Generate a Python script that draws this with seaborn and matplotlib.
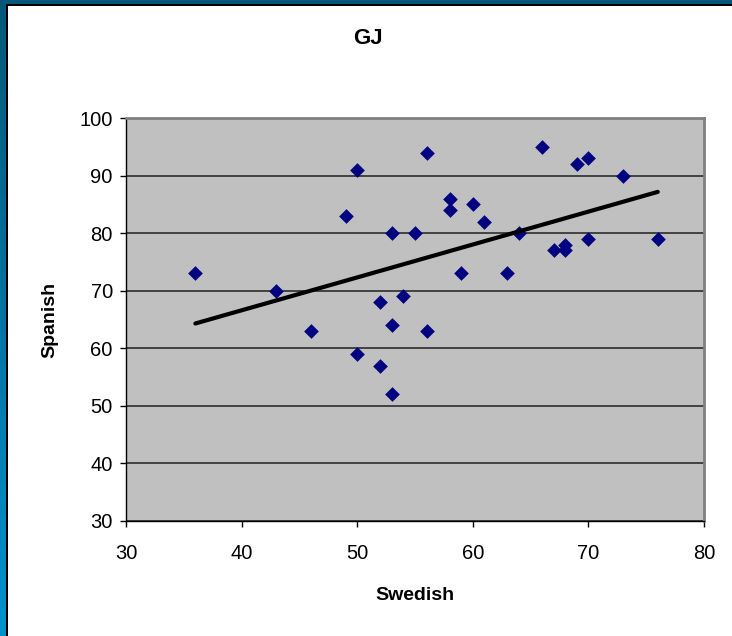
import numpy as np
import pandas as pd
import matplotlib
matplotlib.use("Agg")
import matplotlib.pyplot as plt
import seaborn as sns
from matplotlib.patches import Rectangle
from matplotlib.colors import LinearSegmentedColormap

# Data
swedish = [36, 43, 46, 49, 50, 50, 52, 52, 53, 53, 53, 54, 55, 56, 56, 58,
           58, 59, 60, 61, 63, 64, 66, 67, 68, 68, 69, 70, 70, 73, 76]
spanish = [73, 70, 63, 83, 91, 59, 68, 57, 80, 64, 52, 69, 80, 94, 63, 86,
           84, 73, 85, 82, 73, 80, 95, 77, 78, 77, 92, 93, 79, 90, 79]
x_ticks = [30, 40, 50, 60, 70, 80]
y_ticks = [30, 40, 50, 60, 70, 80, 90, 100]
title = "GJ"
x_label = "Swedish"
y_label = "Spanish"

df = pd.DataFrame({x_label: swedish, y_label: spanish})

sns.set_style("white")
plt.rcParams['font.family'] = ['Liberation Sans', 'DejaVu Sans']
plt.rcParams['text.color'] = 'black'
plt.rcParams['axes.labelcolor'] = 'black'
plt.rcParams['xtick.color'] = 'black'
plt.rcParams['ytick.color'] = 'black'

W, H = 732, 636
fig = plt.figure(figsize=(W / 100, H / 100), dpi=100)
fig.patch.set_facecolor("white")

# Slide frame: teal top band and gradient left band with black inner edge
fig.patches.append(Rectangle((0, 1 - 4 / H), 1, 4 / H, transform=fig.transFigure,
                             facecolor="#06587a", edgecolor="none", zorder=0))
fig.patches.append(Rectangle((6 / W, 1 - 6 / H), 1, 2 / H, transform=fig.transFigure,
                             facecolor="black", edgecolor="none", zorder=0))
fig.patches.append(Rectangle((6 / W, 0), 2 / W, 1 - 4 / H, transform=fig.transFigure,
                             facecolor="black", edgecolor="none", zorder=0))
gax = fig.add_axes([0, 0, 6 / W, 1 - 4 / H])
cmap = LinearSegmentedColormap.from_list("band", ["#0092cc", "#06587a"])
gax.imshow(np.linspace(0, 1, 256).reshape(-1, 1), aspect="auto", cmap=cmap,
           origin="lower", extent=[0, 1, 0, 1])
gax.set_axis_off()

ax = fig.add_axes([126 / W, 1 - 521 / H, (704 - 126) / W, (521 - 118) / H])
ax.set_facecolor("#c0c0c0")

sns.regplot(data=df, x=x_label, y=y_label, ax=ax, ci=None, marker="D",
            scatter_kws={"color": "#000080", "s": 56, "linewidths": 0,
                         "alpha": 1, "zorder": 3},
            line_kws={"color": "black", "lw": 3, "zorder": 4})

ax.set_xlim(30, 80)
ax.set_ylim(30, 100)
ax.set_xticks(x_ticks)
ax.set_yticks(y_ticks)
ax.yaxis.grid(True, color="#202020", lw=1.1)
ax.xaxis.grid(False)
ax.set_axisbelow(True)

for s in ["left", "bottom"]:
    ax.spines[s].set_color("black")
    ax.spines[s].set_linewidth(1.0)
for s in ["top", "right"]:
    ax.spines[s].set_color("#808080")
    ax.spines[s].set_linewidth(2.0)
    ax.spines[s].set_visible(True)

ax.tick_params(axis="both", direction="out", length=4.5, width=1, color="black",
               labelsize=14.5, labelcolor="black", bottom=True, left=True)
ax.tick_params(axis="x", pad=12)
ax.tick_params(axis="y", pad=5)

ax.set_xlabel(x_label, fontsize=14, fontweight="bold", labelpad=17, color="black")
ax.set_ylabel(y_label, fontsize=14, fontweight="bold", labelpad=15, color="black")
fig.text(368 / W, 1 - 39 / H, title, ha="center", va="center",
         fontsize=16, fontweight="bold", color="black")

fig.savefig("out.png", dpi=100, facecolor="white")
